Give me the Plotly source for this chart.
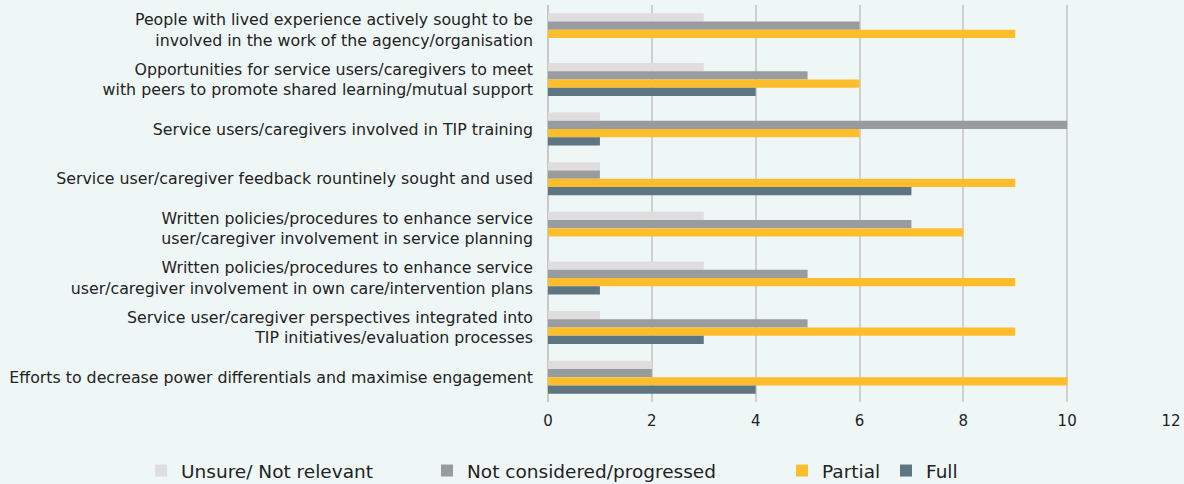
import plotly.graph_objects as go

categories = [
    "People with lived experience actively sought to be<br>involved in the work of the agency/organisation",
    "Opportunities for service users/caregivers to meet<br>with peers to promote shared learning/mutual support",
    "Service users/caregivers involved in TIP training",
    "Service user/caregiver feedback rountinely sought and used",
    "Written policies/procedures to enhance service<br>user/caregiver involvement in service planning",
    "Written policies/procedures to enhance service<br>user/caregiver involvement in own care/intervention plans",
    "Service user/caregiver perspectives integrated into<br>TIP initiatives/evaluation processes",
    "Efforts to decrease power differentials and maximise engagement",
]
unsure = [3, 3, 1, 1, 3, 3, 1, 2]
not_considered = [6, 5, 10, 1, 7, 5, 5, 2]
partial = [9, 6, 6, 9, 8, 9, 9, 10]
full = [0, 4, 1, 7, 0, 1, 3, 4]

# plot area spans x pixels 548..1171
L, R = 548, 1171
def px_to_paper(px):
    return (px - L) / (R - L)

series = [
    ("Unsure/ Not relevant", unsure, "#DFDDDE", "legend", px_to_paper(141)),
    ("Not considered/progressed", not_considered, "#999C9E", "legend2", px_to_paper(427)),
    ("Partial", partial, "#FEBE2B", "legend3", px_to_paper(782)),
    ("Full", full, "#5E7582", "legend4", px_to_paper(886)),
]

FONT = "DejaVu Sans"
fig = go.Figure()
for name, vals, color, lg, _ in series:
    fig.add_trace(go.Bar(
        y=categories, x=vals, name=name, orientation="h",
        marker=dict(color=color, line=dict(width=0)),
        legend=lg,
    ))

bg = "#EFF7F6"
layout_legends = {}
for name, vals, color, lg, xpos in series:
    layout_legends[lg] = dict(
        x=xpos, xref="paper", y=(402 - 471) / 397, yref="paper",
        yanchor="middle", xanchor="left",
        orientation="h", bgcolor="rgba(0,0,0,0)",
        font=dict(family=FONT, size=18.5, color="#222"),
        itemwidth=30,
    )

fig.update_layout(
    width=1184, height=484,
    paper_bgcolor=bg, plot_bgcolor=bg,
    barmode="group", bargap=0.335, bargroupgap=0,
    margin=dict(l=L, r=1184 - R, t=5, b=82, autoexpand=False),
    font=dict(family=FONT, size=15, color="#222"),
    showlegend=True,
    **layout_legends,
)
fig.update_xaxes(
    range=[0, 12], dtick=2, showgrid=True, gridcolor="#D0D0D0", gridwidth=2,
    zeroline=True, zerolinecolor="#C8C8C8", zerolinewidth=2,
    showline=False, ticks="", ticklabelstandoff=8,
    tickfont=dict(family=FONT, size=15, color="#222"),
)
fig.update_yaxes(
    autorange="reversed", showgrid=False, ticks="", ticklabelstandoff=14,
    tickfont=dict(family=FONT, size=15.8, color="#222"),
)
fig.write_html("out.html")
